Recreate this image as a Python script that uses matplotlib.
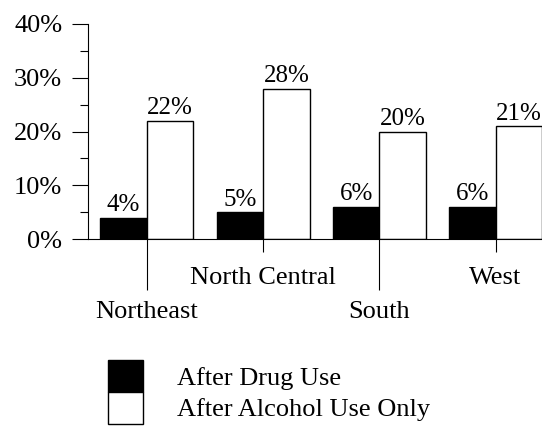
import numpy as np
import matplotlib
matplotlib.use('Agg')
import matplotlib.pyplot as plt
from matplotlib.ticker import FixedLocator, FuncFormatter

# data
regions = ['Northeast', 'North Central', 'South', 'West']
drug_use = [4, 5, 6, 6]
alcohol_only = [22, 28, 20, 21]
series_names = ['After Drug Use', 'After Alcohol Use Only']

plt.rcParams['font.family'] = ['Liberation Serif', 'DejaVu Serif']

fig = plt.figure(figsize=(5.42, 4.33), dpi=100)
ax = fig.add_axes([88 / 542, 1 - 239 / 433, 1 - 88 / 542, (239 - 24) / 433])

x = np.arange(len(regions))
w = 0.40
b1 = ax.bar(x - w / 2, drug_use, w, color='black', edgecolor='black', linewidth=1,
            label=series_names[0])
b2 = ax.bar(x + w / 2, alcohol_only, w, color='white', edgecolor='black', linewidth=1,
            label=series_names[1])
ax.bar_label(b1, labels=[f'{v}%' for v in drug_use], padding=1, fontsize=18)
ax.bar_label(b2, labels=[f'{v}%' for v in alcohol_only], padding=1, fontsize=18)

ax.set_xlim(-0.507, 3.40)
ax.set_ylim(0, 40)

# y axis: labelled majors every 10%, short minors in between
ax.set_yticks([0, 10, 20, 30, 40])
ax.yaxis.set_major_formatter(FuncFormatter(lambda v, p: f'{v:.0f}%'))
ax.yaxis.set_minor_locator(FixedLocator([5, 15, 25, 35]))
ax.tick_params(axis='y', which='major', length=11.5, width=0.8, pad=7, labelsize=19)
ax.tick_params(axis='y', which='minor', length=6, width=0.8)

# x axis: staggered region labels, long ticks for the lower row
ax.set_xticks([0, 2])
ax.set_xticklabels([regions[0], regions[2]])
ax.set_xticks([1, 3], minor=True)
ax.set_xticklabels([regions[1], regions[3]], minor=True)
ax.tick_params(axis='x', which='major', length=37, width=0.8, pad=8, labelsize=19)
ax.tick_params(axis='x', which='minor', length=9.5, width=0.8, pad=11, labelsize=19)

for s in ['top', 'right']:
    ax.spines[s].set_visible(False)
ax.spines['left'].set_linewidth(0.8)
ax.spines['bottom'].set_linewidth(0.8)

ax.legend(loc='upper left', bbox_to_anchor=(108 / 542, 1 - 360 / 433),
          bbox_transform=fig.transFigure, frameon=False, fontsize=19,
          borderpad=0, borderaxespad=0, handlelength=1.32, handleheight=1.48,
          handletextpad=1.3, labelspacing=0.0)

fig.savefig('out.png', dpi=100)
